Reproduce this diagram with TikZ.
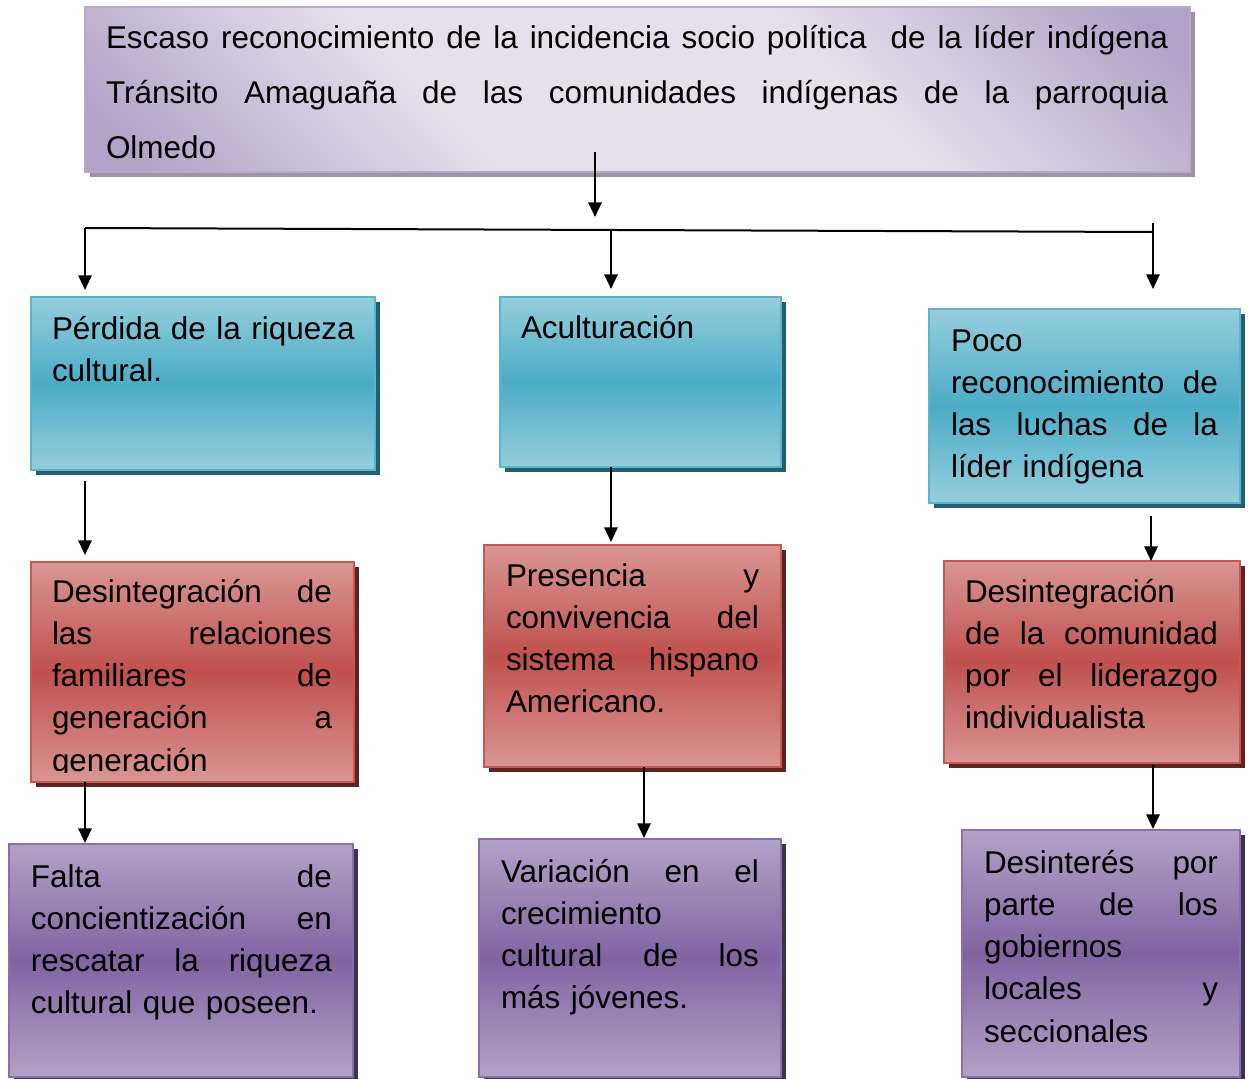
\documentclass[tikz,border=0pt]{standalone}
\usepackage{fontspec}
\setmainfont{Liberation Sans}
\usetikzlibrary{arrows.meta,shadows,fit,calc}
\definecolor{bluemid}{HTML}{4BACC6}
\definecolor{bluelt}{HTML}{95CEDD}
\definecolor{blueshd}{HTML}{245F6F}
\definecolor{bluebrd}{HTML}{5DB5CC}
\definecolor{redmid}{HTML}{C0504D}
\definecolor{redlt}{HTML}{D99694}
\definecolor{redshd}{HTML}{5F2321}
\definecolor{redbrd}{HTML}{C45A57}
\definecolor{purmid}{HTML}{8064A2}
\definecolor{purlt}{HTML}{B3A2C7}
\definecolor{purshd}{HTML}{3F3151}
\definecolor{purbrd}{HTML}{8A70AB}
\definecolor{topdark}{HTML}{B3A2C7}
\definecolor{toplight}{HTML}{E6E0EC}
\definecolor{topshd}{HTML}{9D96A6}
\definecolor{topbrd}{HTML}{B8A9CB}
\pgfdeclareverticalshading{topsh}{100bp}{color(0bp)=(topdark); color(18bp)=(topdark); color(38bp)=(toplight); color(62bp)=(toplight); color(82bp)=(topdark); color(100bp)=(topdark)}
\newcommand\J[1]{\leavevmode\hbox to\hsize{\spaceskip=.278em plus 1fil minus .05em\relax #1}}
\newcommand\Ln[1]{\leavevmode\hbox{#1}}
\tikzset{
  boxbase/.style={rectangle, inner sep=0pt, outer sep=0pt, line width=1.5pt},
  topbox/.style={boxbase, draw=topbrd, shading=topsh, shading angle=-45,
    general shadow={fill=topshd, shadow xshift=3.75pt, shadow yshift=-3.75pt}},
  bluebox/.style={boxbase, draw=bluebrd, top color=bluelt, bottom color=bluelt, middle color=bluemid,
    general shadow={fill=blueshd, shadow xshift=3.5pt, shadow yshift=-3.5pt}},
  redbox/.style={boxbase, draw=redbrd, top color=redlt, bottom color=redlt, middle color=redmid,
    general shadow={fill=redshd, shadow xshift=3.5pt, shadow yshift=-3.5pt}},
  purbox/.style={boxbase, draw=purbrd, top color=purlt, bottom color=purlt, middle color=purmid,
    general shadow={fill=purshd, shadow xshift=3.5pt, shadow yshift=-3.5pt}},
  txt/.style={anchor=base west, inner sep=0pt, outer sep=0pt, text width=#1, align=left,
    font=\fontsize{23.6pt}{31.7pt}\selectfont},
  toptxt/.style={anchor=base west, inner sep=0pt, outer sep=0pt, text width=#1, align=left,
    font=\fontsize{23.6pt}{41.25pt}\selectfont},
  ln/.style={line width=1.5pt},
  arr/.style={line width=1.5pt, -{Triangle[width=10pt,length=11pt]}}
}
\begin{document}
\begin{tikzpicture}[x=0.75pt,y=-0.75pt]
\useasboundingbox (0,0) rectangle (1248,1078);
% boxes
\node[topbox, fit={(85,7) (1190,172)}] (top) {};
\node[bluebox, fit={(31,297) (375,470)}] (b1) {};
\node[bluebox, fit={(500,297) (781,467)}] (b2) {};
\node[bluebox, fit={(929,309) (1240,503)}] (b3) {};
\node[redbox, fit={(31,562) (354,782)}] (r1) {};
\node[redbox, fit={(484,545) (781,767)}] (r2) {};
\node[redbox, fit={(944,561) (1240,763)}] (r3) {};
\node[purbox, fit={(9,844) (353,1077)}] (p1) {};
\node[purbox, fit={(479,839) (781,1077)}] (p2) {};
\node[purbox, fit={(962,830) (1240,1077)}] (p3) {};
% texts
\node[toptxt=796.5pt] (ttop) at (106,48) {\J{Escaso reconocimiento de la incidencia socio política\ \ de la líder indígena}\\\J{Tránsito Amaguaña de las comunidades indígenas de la parroquia}\\\Ln{Olmedo}};
\node[txt=232.5pt] (tb1) at (52,339) {\Ln{Pérdida de la riqueza}\\\Ln{cultural.}};
\node[txt=200pt] (tb2) at (521,338) {\Ln{Aculturación}};
\node[txt=200.25pt] (tb3) at (951,351) {\Ln{Poco}\\\J{reconocimiento de}\\\J{las luchas de la}\\\Ln{líder indígena}};
\begin{scope}
\clip (31,562) rectangle (354,772);
\node[txt=210pt] (tr1) at (52,602) {\J{Desintegración de}\\\J{las relaciones}\\\J{familiares de}\\\J{generación a}\\\Ln{generación}};
\end{scope}
\node[txt=189.75pt] (tr2) at (506,586) {\J{Presencia y}\\\J{convivencia del}\\\J{sistema hispano}\\\Ln{Americano.}};
\node[txt=189.75pt] (tr3) at (965,602) {\Ln{Desintegración}\\\J{de la comunidad}\\\J{por el liderazgo}\\\Ln{individualista}};
\node[txt=225.75pt] (tp1) at (31,887) {\J{Falta de}\\\J{concientización en}\\\J{rescatar la riqueza}\\\Ln{cultural que poseen.}};
\node[txt=193.5pt] (tp2) at (501,882) {\J{Variación en el}\\\Ln{crecimiento}\\\J{cultural de los}\\\Ln{más jóvenes.}};
\node[txt=175.5pt] (tp3) at (984,873) {\J{Desinterés por}\\\J{parte de los}\\\Ln{gobiernos}\\\J{locales y}\\\Ln{seccionales}};
% connectors
\coordinate (a0) at (595,152);
\coordinate (j0) at (595,217);
\draw[arr] (a0) -- (j0);
\coordinate (hl) at (85,228);
\coordinate (hr) at (1153,232);
\coordinate (hm) at (611,230);
\coordinate (hrt) at (1153,223);
\draw[ln] (hl) -- (hr);
\draw[arr, shorten >=5.25pt] (hl) -- (hl |- b1.north);
\draw[arr, shorten >=6pt] (hm) -- (hm |- b2.north);
\draw[arr, shorten >=15pt] (hrt) -- (hrt |- b3.north);
\coordinate (s1) at (85,481);
\coordinate (s2) at (611,467);
\coordinate (s3) at (1151,516);
\coordinate (s4) at (85,782);
\coordinate (s5) at (644,767);
\coordinate (s6) at (1153,765);
\draw[arr, shorten >=5.25pt] (s1) -- (s1 |- r1.north);
\draw[arr, shorten >=2.25pt] (s2) -- (s2 |- r2.north);
\draw[arr] (s3) -- (s3 |- r3.north);
\draw[arr, shorten >=0.75pt] (s4) -- (s4 |- p1.north);
\draw[arr, shorten >=0.75pt] (s5) -- (s5 |- p2.north);
\draw[arr, shorten >=0.75pt] (s6) -- (s6 |- p3.north);
\end{tikzpicture}
\end{document}
